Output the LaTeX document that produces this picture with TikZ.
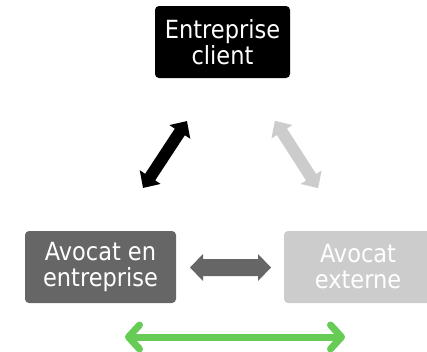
\documentclass[tikz,border=0pt]{standalone}
\usepackage{fontspec}
\setmainfont{DejaVu Sans Condensed}
\usetikzlibrary{arrows.meta}
\definecolor{darkbox}{RGB}{102,102,102}
\definecolor{lightbox}{RGB}{204,204,204}
\definecolor{linkgreen}{RGB}{102,204,85}

% Filled double-headed block arrow:
% #1 colour, #2 centre, #3 angle, #4 half length, #5 half shaft, #6 half head
\newcommand{\BlockArrow}[6]{%
  \fill[#1, shift={#2}, rotate=#3]
    (-#4,0) -- (-#4+13,#6) -- (-#4+13,#5) -- (#4-13,#5) -- (#4-13,#6)
    -- (#4,0) -- (#4-13,-#6) -- (#4-13,-#5) -- (-#4+13,-#5) -- (-#4+13,-#6)
    -- cycle;}

\begin{document}
\begin{tikzpicture}[x=1pt, y=-1pt,
  party/.style={rounded corners=4pt, minimum height=72pt, align=center,
    text=white, inner sep=0pt, font=\fontsize{25}{26}\selectfont},
  greenlink/.style={draw=linkgreen, line width=7pt, line cap=round,
    {Straight Barb[length=11pt,width=24pt,round]}-{Straight Barb[length=11pt,width=24pt,round]}}
]
\useasboundingbox (0,0) rectangle (427,351);
\clip (0,0) rectangle (427,351);

\node[party, fill=black, minimum width=135pt] (client) at (222.5,42) {Entreprise\\client};
\node[party, fill=darkbox, minimum width=151pt] (inhouse) at (100.5,267) {Avocat en\\entreprise};
\node[party, fill=lightbox, minimum width=148pt] (external) at (358,267) {Avocat\\externe};

\BlockArrow{black}{(165,154.5)}{56.7}{40}{6}{12.5}
\BlockArrow{lightbox}{(296.5,154.5)}{-57.3}{40}{6}{12.5}
\BlockArrow{darkbox}{(230.5,267.5)}{0}{40.5}{8.5}{13.5}

\coordinate (gl) at (125,337);
\coordinate (gr) at (345,337);
\draw[greenlink] (gl) -- (gr);
\end{tikzpicture}
\end{document}
